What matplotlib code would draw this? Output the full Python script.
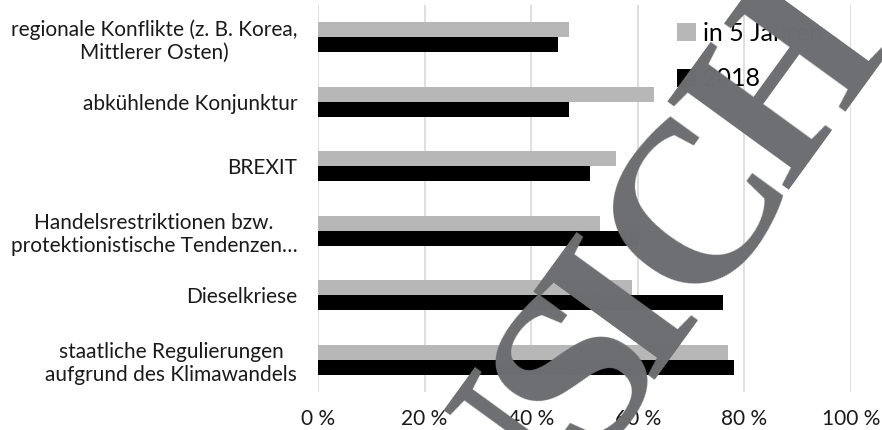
import numpy as np
import matplotlib
matplotlib.use("Agg")
import matplotlib.pyplot as plt

plt.rcParams['font.family'] = ['Lato', 'DejaVu Sans']

# Data
categories = [
    "regionale Konflikte (z. B. Korea,\nMittlerer Osten)",
    "abkühlende Konjunktur",
    "BREXIT",
    "Handelsrestriktionen bzw.\nprotektionistische Tendenzen…",
    "Dieselkriese",
    "staatliche Regulierungen\naufgrund des Klimawandels",
]
in5Jahren = [47, 63, 56, 53, 59, 77]
jahr2018 = [45, 47, 51, 60, 76, 78]
xticks = [0, 20, 40, 60, 80, 100]
xtickLabels = ["0 %", "20 %", "40 %", "60 %", "80 %", "100 %"]

W, H = 882, 430
fig = plt.figure(figsize=(W / 100, H / 100), dpi=100)
ax = fig.add_axes([318/W, 38/H, 533/W, 387/H])

y = np.arange(len(categories))
h = 0.235
ax.barh(y - h/2, in5Jahren, height=h, color="#b7b7b7", label="in 5 Jahren", zorder=2)
ax.barh(y + h/2, jahr2018, height=h, color="#000000", label="2018", zorder=2)

ax.set_ylim(len(categories) - 0.5, -0.5)
ax.set_xlim(0, 100)
ax.set_yticks(y)
ax.set_yticklabels(categories, fontsize=15, multialignment="center", color="#1a1a1a")
ax.set_xticks(xticks)
ax.set_xticklabels(xtickLabels, fontsize=15, color="#1a1a1a")
ax.tick_params(axis="both", length=0)
ax.tick_params(axis="y", pad=15)
ax.tick_params(axis="x", pad=12)
ax.xaxis.grid(True, color="#d9d9d9", linewidth=1.2, zorder=0)
for s in ax.spines.values():
    s.set_visible(False)

leg = fig.legend(loc="upper left", bbox_to_anchor=(667/W, 1 - 12/H), frameon=False,
                 fontsize=18, handlelength=0.75, handleheight=0.75, handletextpad=0.3,
                 labelspacing=0.9, borderaxespad=0)

# preview watermark "ANSICHT", letters set one by one along a 54 degree baseline
# (the original face is narrower than Liberation Serif, so spacing is done by hand)
angle = 54
ca, sa = np.cos(np.radians(angle)), np.sin(np.radians(angle))
baseline = 747                      # px, distance of the baseline from the origin
along = [-250, -95, 40, 118, 242, 397, 549]   # px, letter centres along the baseline
for ch, a in zip("ANSICHT", along):
    px = a * ca + baseline * sa
    py = -a * sa + baseline * ca
    fig.text(px / W, 1 - py / H, ch, fontsize=165, family="Liberation Serif",
             weight="bold", color="#6d6e71", rotation=angle, rotation_mode="anchor",
             ha="center", va="baseline", zorder=10)

fig.savefig("out.png", dpi=100)
